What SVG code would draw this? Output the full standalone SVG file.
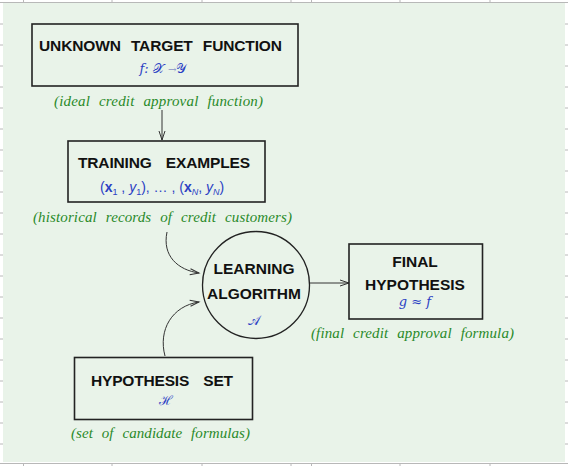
<svg xmlns="http://www.w3.org/2000/svg" width="568" height="466" viewBox="0 0 568 466">
<defs>
<style>
.title{font-family:"Liberation Sans",Arial,sans-serif;font-weight:bold;font-size:15.5px;fill:#111;}
.lbl{font-family:"Liberation Serif","Times New Roman",serif;font-style:italic;font-size:15px;fill:#2a8a2a;word-spacing:5px;}
.math{font-family:"DejaVu Serif","Liberation Serif",serif;font-size:13px;fill:#2b3fc4;}
.maths{font-family:"Liberation Sans",Arial,sans-serif;font-size:14px;fill:#2b3fc4;}
.box{fill:none;stroke:#222;stroke-width:1.6;}
.conn{fill:none;stroke:#333;stroke-width:1;}
.grid{stroke:#b8b8b8;stroke-width:1;}
</style>
<marker id="ah" markerUnits="userSpaceOnUse" markerWidth="12" markerHeight="10" refX="0" refY="0" viewBox="-10 -5 12 10" orient="auto">
<path d="M-9,-3 L0,0 L-9,3" fill="none" stroke="#333" stroke-width="1"/>
</marker>
</defs>
<rect x="0" y="0" width="568" height="466" fill="#ffffff"/>
<rect x="3" y="3" width="562" height="459" fill="#e9f3e9"/>
<g id="grid" class="grid">
<line x1="0" y1="2.5" x2="568" y2="2.5"/>
<line x1="0" y1="463.5" x2="568" y2="463.5"/>
<path d="M23.5,0V3M112,0V3M202,0V3M291,0V3M311.5,0V3M400,0V3M490,0V3M23.5,463V466M112,463V466M202,463V466M291,463V466M311.5,463V466M400,463V466M490,463V466"/>
<path d="M0,24H3M0,45H3M0,66H3M0,87H3M0,108H3M0,129H3M0,150H3M0,171H3M0,192H3M0,213H3M0,234H3M0,255H3M0,276H3M0,297H3M0,318H3M0,339H3M0,360H3M0,381H3M0,402H3M0,423H3M0,444H3"/>
<path d="M565,24H568M565,45H568M565,66H568M565,87H568M565,108H568M565,129H568M565,150H568M565,171H568M565,192H568M565,213H568M565,234H568M565,255H568M565,276H568M565,297H568M565,318H568M565,339H568M565,360H568M565,381H568M565,402H568M565,423H568M565,444H568"/>
</g>
<g id="connectors">
<line class="conn" x1="162" y1="110" x2="162" y2="140" marker-end="url(#ah)"/>
<path class="conn" d="M167,232 C162,256 178,270 199,273" marker-end="url(#ah)"/>
<path class="conn" d="M165,356 C158,330 172,306 199,302" marker-end="url(#ah)"/>
<line class="conn" x1="310" y1="283" x2="349" y2="283" marker-end="url(#ah)"/>
</g>
<g id="target">
<rect class="box" x="32" y="24" width="266" height="62"/>
<text class="title" x="39" y="51" textLength="243" style="word-spacing:6px">UNKNOWN TARGET FUNCTION</text>
<text class="math" x="163" y="73" text-anchor="middle"><tspan font-style="italic">f:</tspan> 𝒳 <tspan fill="#8a94c8" font-size="10">→</tspan>𝒴</text>
<text class="lbl" x="54" y="106" textLength="209">(ideal credit approval function)</text>
</g>
<g id="training">
<rect class="box" x="68" y="141" width="197" height="61"/>
<text class="title" x="78" y="167.5" textLength="172" style="word-spacing:10px">TRAINING EXAMPLES</text>
<text class="maths" x="100" y="191.5">(<tspan font-weight="bold">x</tspan><tspan font-size="9" dy="3">1</tspan><tspan dy="-3"> , </tspan><tspan font-style="italic">y</tspan><tspan font-size="9" dy="3">1</tspan><tspan dy="-3">), … , (</tspan><tspan font-weight="bold">x</tspan><tspan font-size="9" font-style="italic" dy="3">N</tspan><tspan dy="-3">, </tspan><tspan font-style="italic">y</tspan><tspan font-size="9" font-style="italic" dy="3">N</tspan><tspan dy="-3">)</tspan></text>
<text class="lbl" x="33" y="221.5" textLength="259">(historical records of credit customers)</text>
</g>
<g id="learning">
<circle cx="256" cy="285" r="53.5" fill="none" stroke="#222" stroke-width="1.3"/>
<text class="title" x="254" y="273.5" text-anchor="middle">LEARNING</text>
<text class="title" x="254" y="298.5" text-anchor="middle">ALGORITHM</text>
<text class="math" x="254" y="325" text-anchor="middle">𝒜</text>
</g>
<g id="final">
<rect class="box" x="349" y="244" width="133.5" height="75"/>
<text class="title" x="415" y="267" text-anchor="middle">FINAL</text>
<text class="title" x="415" y="290" text-anchor="middle">HYPOTHESIS</text>
<text class="math" x="415" y="306" text-anchor="middle" font-style="italic">g ≈ f</text>
<text class="lbl" x="311" y="337.5" textLength="203">(final credit approval formula)</text>
</g>
<g id="hypset">
<rect class="box" x="74.5" y="357.5" width="178" height="62"/>
<text class="title" x="91" y="386" textLength="142" style="word-spacing:10px">HYPOTHESIS SET</text>
<text class="math" x="166" y="405" text-anchor="middle">ℋ</text>
<text class="lbl" x="71" y="438" textLength="179">(set of candidate formulas)</text>
</g>
</svg>
